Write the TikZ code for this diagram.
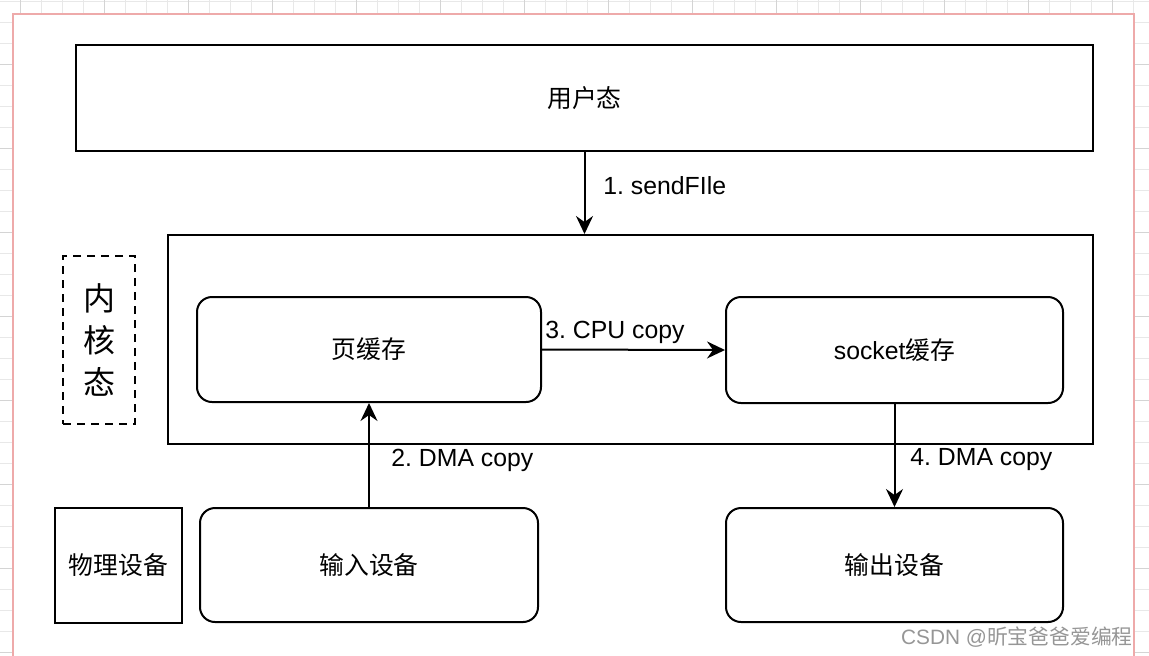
\documentclass[tikz,border=0pt]{standalone}
\usepackage{fontspec}
\setmainfont{Liberation Sans}
\newfontfamily\cjk{Noto Sans CJK SC}
\usetikzlibrary{arrows.meta,positioning}
\frenchspacing
\definecolor{pinkline}{RGB}{238,170,170}
\definecolor{gridminor}{RGB}{232,232,232}
\definecolor{gridmajor}{RGB}{212,212,212}
\definecolor{markgray}{RGB}{150,150,150}
\begin{document}
\begin{tikzpicture}[x=0.5pt, y=-0.5pt,
	box/.style={draw=black, line width=1pt, shape=rectangle, inner sep=0pt, font=\fontsize{12.4}{15}\selectfont},
	rbox/.style={box, rounded corners=7.5pt},
	lbl/.style={anchor=west, inner sep=0pt, font=\fontsize{12.4}{15}\selectfont},
	flow/.style={draw=black, line width=1pt, -{Stealth[length=9pt, width=8.5pt, inset=3pt]}}]
	\useasboundingbox (0,0) rectangle (1149,655);
	% grid outside the page
	\foreach \gx in {0,...,54} {
		\draw[gridminor, line width=0.5pt] (20+21*\gx,0) -- (20+21*\gx,655);
	}
	\foreach \gy in {0,...,31} {
		\draw[gridminor, line width=0.5pt] (0,1+21*\gy) -- (1149,1+21*\gy);
	}
	\foreach \gx in {0,...,13} {
		\draw[gridmajor, line width=0.5pt] (20+84*\gx,0) -- (20+84*\gx,655);
	}
	\foreach \gy in {0,...,7} {
		\draw[gridmajor, line width=0.5pt] (0,64+84*\gy) -- (1149,64+84*\gy);
	}
	\fill[white] (13,14) rectangle (1134,660);
	\draw[pinkline, line width=1pt] (13,660) -- (13,14) -- (1134,14) -- (1134,660);

	\node[box, minimum width=508.5pt, minimum height=53pt] (user) at (584.5,98) {\cjk 用户态};
	\node[box, minimum width=462.5pt, minimum height=104.5pt] (kern) at (630.5,339.5) {};
	\node[box, dashed, dash pattern=on 4pt off 3pt, minimum width=36pt, minimum height=84pt, align=center, font=\fontsize{16}{21}\selectfont] (kern_lbl) at (99,340) {\cjk 内\\\cjk 核\\\cjk 态};

	\node[rbox, minimum width=172pt, minimum height=52.5pt] (page) at (369,349.5) {\cjk 页缓存};
	\node[rbox, minimum width=168.5pt, minimum height=53pt] (sock) at (894.5,350) {socket{\cjk 缓存}};

	\node[box, minimum width=63.5pt, minimum height=57.5pt] (phys) at (118.5,565.5) {\cjk 物理设备};
	\node[rbox, minimum width=169pt, minimum height=57pt] (inp) at (369,565) {\cjk 输入设备};
	\node[rbox, minimum width=168.5pt, minimum height=57pt] (outp) at (894.5,565) {\cjk 输出设备};

	\draw[flow] (user.south) -- (user.south |- kern.north);
	\draw[flow] (page.east) -- (sock.west);
	\draw[flow] (inp.north) -- (page.south);
	\draw[flow] (sock.south) -- (outp.north);

	\node[lbl] (l_1) at (603,186) {1. sendFIle};
	\node[lbl] (l_3) at (545,332) {3. CPU copy};
	\node[lbl] (l_2) at (391,460) {2. DMA copy};
	\node[lbl] (l_4) at (910,460) {4. DMA copy};

	\node[anchor=east, inner sep=0pt, text=markgray, font=\fontsize{10.4}{12}\selectfont] (mark) at (1133,637) {CSDN @{\cjk 昕宝爸爸爱编程}};
\end{tikzpicture}
\end{document}
